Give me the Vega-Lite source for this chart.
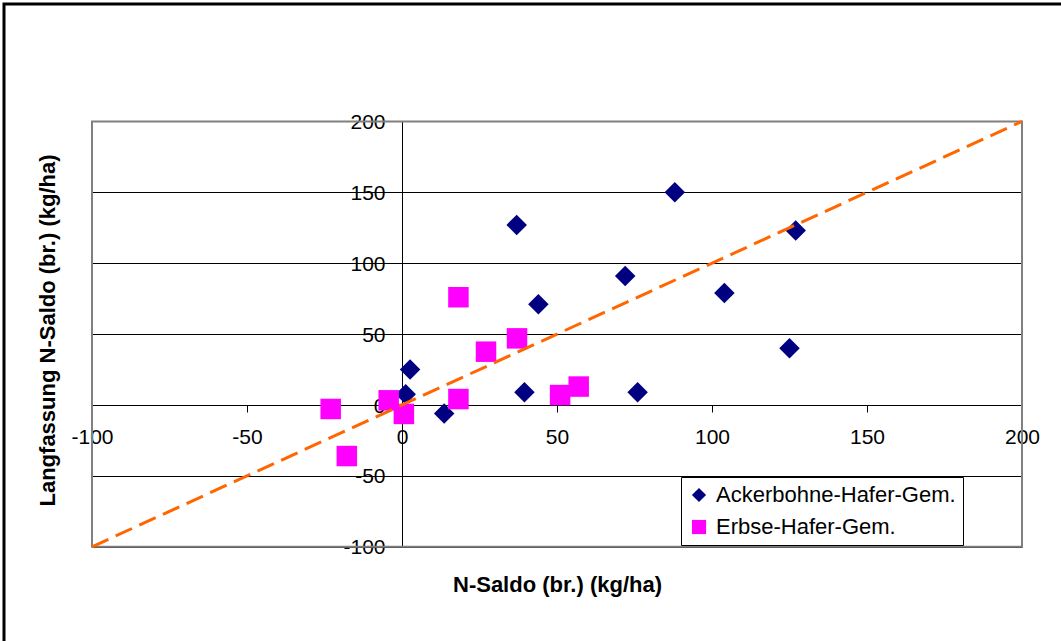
{
  "$schema": "https://vega.github.io/schema/vega-lite/v6.json",
  "width": 1060,
  "height": 640,
  "autosize": {"type": "none"},
  "padding": {"left": 4, "top": 4, "right": -3, "bottom": -3},
  "background": "white",
  "datasets": {
    "punkte": [
      {"saldo": 37, "langfassung": 127, "serie": "Ackerbohne-Hafer-Gem."},
      {"saldo": 88, "langfassung": 150, "serie": "Ackerbohne-Hafer-Gem."},
      {"saldo": 127, "langfassung": 123, "serie": "Ackerbohne-Hafer-Gem."},
      {"saldo": 72, "langfassung": 91, "serie": "Ackerbohne-Hafer-Gem."},
      {"saldo": 104, "langfassung": 79, "serie": "Ackerbohne-Hafer-Gem."},
      {"saldo": 125, "langfassung": 40, "serie": "Ackerbohne-Hafer-Gem."},
      {"saldo": 76, "langfassung": 9, "serie": "Ackerbohne-Hafer-Gem."},
      {"saldo": 39.5, "langfassung": 9, "serie": "Ackerbohne-Hafer-Gem."},
      {"saldo": 44, "langfassung": 71, "serie": "Ackerbohne-Hafer-Gem."},
      {"saldo": 2.6, "langfassung": 25, "serie": "Ackerbohne-Hafer-Gem."},
      {"saldo": 1.2, "langfassung": 7.5, "serie": "Ackerbohne-Hafer-Gem."},
      {"saldo": 13.6, "langfassung": -6, "serie": "Ackerbohne-Hafer-Gem."},
      {"saldo": 18.2, "langfassung": 76, "serie": "Erbse-Hafer-Gem."},
      {"saldo": 37.1, "langfassung": 47, "serie": "Erbse-Hafer-Gem."},
      {"saldo": 27.1, "langfassung": 37.6, "serie": "Erbse-Hafer-Gem."},
      {"saldo": 18.2, "langfassung": 4.2, "serie": "Erbse-Hafer-Gem."},
      {"saldo": -23, "langfassung": -2.8, "serie": "Erbse-Hafer-Gem."},
      {"saldo": -17.8, "langfassung": -36, "serie": "Erbse-Hafer-Gem."},
      {"saldo": 51, "langfassung": 7, "serie": "Erbse-Hafer-Gem."},
      {"saldo": 57, "langfassung": 13, "serie": "Erbse-Hafer-Gem."},
      {"saldo": -4.3, "langfassung": 3.3, "serie": "Erbse-Hafer-Gem."},
      {"saldo": 0.6, "langfassung": -6.3, "serie": "Erbse-Hafer-Gem."}
    ],
    "linie": [
      {"saldo": -100, "langfassung": -100},
      {"saldo": 200, "langfassung": 200}
    ],
    "rahmen": [{}]
  },
  "resolve": {"axis": {"y": "independent"}},
  "config": {
    "view": {"stroke": "black", "strokeWidth": 3, "fill": "white"},
    "font": "Liberation Sans",
    "axis": {
      "domainColor": "black",
      "domainWidth": 1,
      "tickColor": "black",
      "tickSize": 7,
      "tickWidth": 1,
      "labelColor": "black",
      "labelFont": "Liberation Sans",
      "labelFontSize": 21,
      "labelFlush": false,
      "labelOverlap": false,
      "labelBound": false,
      "titleFont": "Liberation Sans",
      "titleFontSize": 22,
      "titleFontWeight": "bold",
      "titleColor": "black",
      "gridColor": "black",
      "gridWidth": 1,
      "gridOpacity": 1
    },
    "axisX": {"grid": false, "offset": -239, "labelPadding": 14, "titleY": 186, "titleBaseline": "alphabetic"}
  },
  "layer": [
    {
      "data": {"name": "rahmen"},
      "mark": {"type": "rect", "fillOpacity": 0, "stroke": "#808080", "strokeWidth": 2},
      "encoding": {
        "x": {"datum": -100, "type": "quantitative"},
        "x2": {"datum": 200},
        "y": {
          "datum": -100, "type": "quantitative",
          "axis": {"orient": "left", "grid": true, "offset": 0, "labels": false, "ticks": false, "domain": false, "title": null, "values": [-100, -50, 0, 50, 100, 150, 200]}
        },
        "y2": {"datum": 200}
      }
    },
    {
      "data": {"name": "punkte"},
      "mark": {"type": "point", "filled": true, "size": 420, "opacity": 1, "strokeWidth": 0},
      "encoding": {
        "x": {
          "field": "saldo", "type": "quantitative",
          "scale": {"domain": [-100, 200], "range": [88, 1018], "nice": false, "zero": false},
          "axis": {"values": [-100, -50, 0, 50, 100, 150, 200], "title": "N-Saldo (br.) (kg/ha)", "labelExpr": "'' + datum.value"}
        },
        "y": {
          "field": "langfassung", "type": "quantitative",
          "scale": {"domain": [-100, 200], "range": [542.8, 117.4], "nice": false, "zero": false},
          "axis": {"orient": "left", "grid": false, "offset": -398, "labelPadding": 10, "labelOffset": 1, "titleX": -348, "titleY": 326, "titleBaseline": "alphabetic", "values": [-100, -50, 0, 50, 100, 150, 200], "title": "Langfassung N-Saldo (br.) (kg/ha)", "labelExpr": "'' + datum.value"}
        },
        "color": {
          "field": "serie", "type": "nominal",
          "scale": {"domain": ["Ackerbohne-Hafer-Gem.", "Erbse-Hafer-Gem."], "range": ["#000080", "#FF00FF"]},
          "legend": {"orient": "none", "legendX": 677, "legendY": 473, "title": null, "strokeColor": "black", "fillColor": "white", "padding": 7, "rowPadding": 10, "labelFontSize": 22, "labelFont": "Liberation Sans", "labelColor": "black", "symbolSize": 200, "labelOffset": 6, "symbolStrokeWidth": 0, "labelLimit": 400}
        },
        "shape": {
          "field": "serie", "type": "nominal",
          "scale": {"domain": ["Ackerbohne-Hafer-Gem.", "Erbse-Hafer-Gem."], "range": ["diamond", "square"]},
          "legend": {"orient": "none", "legendX": 677, "legendY": 473, "title": null, "strokeColor": "black", "fillColor": "white", "padding": 7, "rowPadding": 10, "labelFontSize": 22, "labelFont": "Liberation Sans", "labelColor": "black", "symbolSize": 200, "labelOffset": 6, "symbolStrokeWidth": 0, "labelLimit": 400}
        }
      }
    },
    {
      "data": {"name": "linie"},
      "mark": {"type": "line", "color": "#FF6600", "strokeWidth": 3, "strokeDash": [18, 8]},
      "encoding": {
        "x": {"field": "saldo", "type": "quantitative", "title": "N-Saldo (br.) (kg/ha)"},
        "y": {"field": "langfassung", "type": "quantitative", "axis": null}
      }
    }
  ]
}
